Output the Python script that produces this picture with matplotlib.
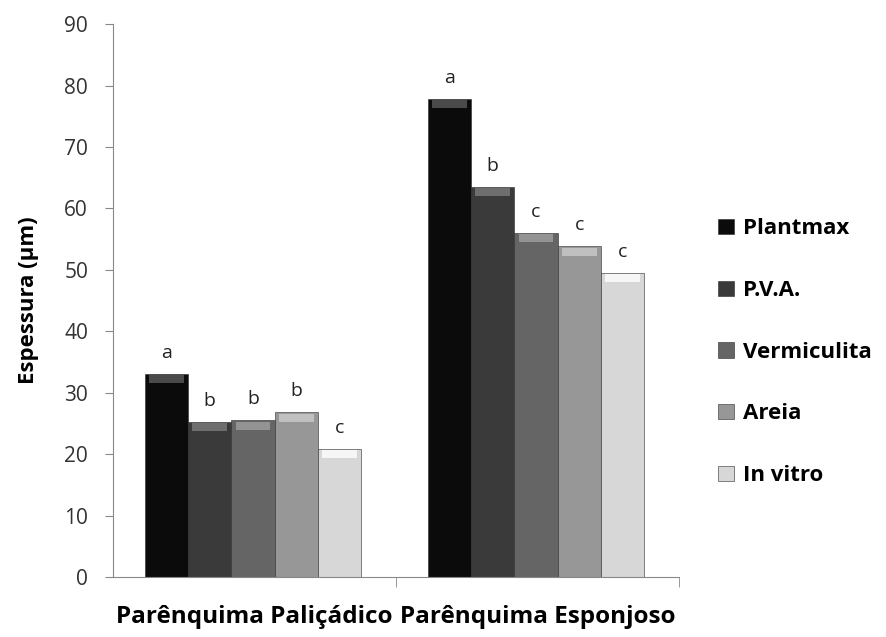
import matplotlib.pyplot as plt
import numpy as np

plt.rcParams['font.family'] = ['Open Sans', 'DejaVu Sans']

categories = ['Parênquima Paliçádico', 'Parênquima Esponjoso']
series = ['Plantmax', 'P.V.A.', 'Vermiculita', 'Areia', 'In vitro']
values = {
    'Plantmax': [33.0, 77.8],
    'P.V.A.': [25.2, 63.5],
    'Vermiculita': [25.5, 56.0],
    'Areia': [26.8, 53.8],
    'In vitro': [20.8, 49.5],
}
letters = {
    'Plantmax': ['a', 'a'],
    'P.V.A.': ['b', 'b'],
    'Vermiculita': ['b', 'c'],
    'Areia': ['b', 'c'],
    'In vitro': ['c', 'c'],
}
colors = ['#0b0b0b', '#3a3a3a', '#656565', '#979797', '#d7d7d7']
tops = ['#4a4a4a', '#6e6e6e', '#939393', '#c0c0c0', '#f6f6f6']

fig = plt.figure(figsize=(8.87, 6.37), dpi=100)
ax = fig.add_axes([0.1274, 0.0942, 0.638, 0.868])

x = np.arange(len(categories))
w = 0.153
handles = []
for i, s in enumerate(series):
    pos = x + (i - 2) * w - 0.005
    b = ax.bar(pos, values[s], w, color=colors[i], edgecolor='#2a2a2a',
               linewidth=0.4, label=s, zorder=2)
    handles.append(b)
    # bevel highlight at the top of each bar
    ax.bar(pos, 1.3, w * 0.8, bottom=np.array(values[s]) - 1.5,
           color=tops[i], linewidth=0, zorder=3)
    for p, v, l in zip(pos, values[s], letters[s]):
        ax.text(p, v + 2.0, l, ha='center', va='bottom', fontsize=14,
                color='#222222')

ax.set_xlim(-0.5, 1.5)
ax.set_ylim(0, 90)
ax.set_yticks(range(0, 91, 10))
ax.tick_params(axis='y', labelsize=15, length=6, color='#888888',
               labelcolor='#333333', pad=12)
ax.set_xticks(x)
ax.set_xticklabels(categories, fontsize=17.5, fontweight='bold')
ax.tick_params(axis='x', length=0, pad=20)
ax.set_xticks([0.5, 1.5], minor=True)
ax.tick_params(axis='x', which='minor', length=7, color='#888888')
for sp in ['top', 'right']:
    ax.spines[sp].set_visible(False)
for sp in ['left', 'bottom']:
    ax.spines[sp].set_color('#888888')
ax.set_ylabel('Espessura (μm)', fontsize=16, fontweight='bold', labelpad=18)

ax.legend(handles=handles, labels=series, loc='center left',
          bbox_to_anchor=(0.787, 0.447), bbox_transform=fig.transFigure,
          frameon=False, prop={'size': 16, 'weight': 'bold'},
          handlelength=0.7, handleheight=0.7, handletextpad=0.4,
          labelspacing=1.83)

fig.savefig('out.png', dpi=100)
